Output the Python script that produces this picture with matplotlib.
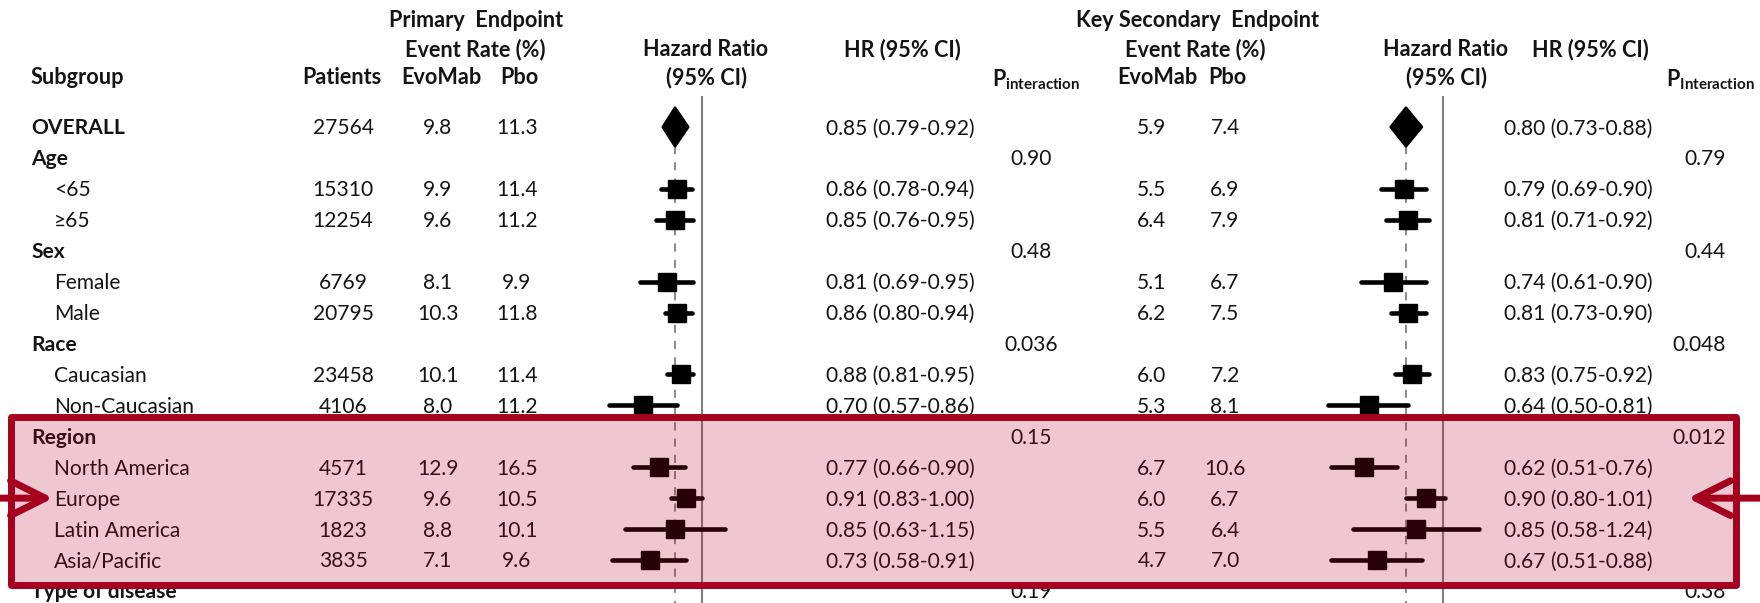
import numpy as np
import matplotlib.pyplot as plt
from matplotlib.patches import Rectangle

plt.rcParams['font.family'] = ['Lato', 'DejaVu Sans']
plt.rcParams['mathtext.fontset'] = 'custom'
plt.rcParams['mathtext.rm'] = 'Lato'
plt.rcParams['mathtext.bf'] = 'Lato:bold'

# Subgroup data
subgroups = ['OVERALL', 'Age', '<65', '≥65', 'Sex', 'Female', 'Male', 'Race',
             'Caucasian', 'Non-Caucasian', 'Region', 'North America', 'Europe',
             'Latin America', 'Asia/Pacific', 'Type of disease']
is_group = [True, True, False, False, True, False, False, True,
            False, False, True, False, False, False, False, True]
nan = np.nan
patients = [27564, nan, 15310, 12254, nan, 6769, 20795, nan,
            23458, 4106, nan, 4571, 17335, 1823, 3835, nan]

# Primary endpoint
evo1 = [9.8, nan, 9.9, 9.6, nan, 8.1, 10.3, nan, 10.1, 8.0, nan, 12.9, 9.6, 8.8, 7.1, nan]
pbo1 = [11.3, nan, 11.4, 11.2, nan, 9.9, 11.8, nan, 11.4, 11.2, nan, 16.5, 10.5, 10.1, 9.6, nan]
hr1 = [0.85, nan, 0.86, 0.85, nan, 0.81, 0.86, nan, 0.88, 0.70, nan, 0.77, 0.91, 0.85, 0.73, nan]
lo1 = [0.79, nan, 0.78, 0.76, nan, 0.69, 0.80, nan, 0.81, 0.57, nan, 0.66, 0.83, 0.63, 0.58, nan]
hi1 = [0.92, nan, 0.94, 0.95, nan, 0.95, 0.94, nan, 0.95, 0.86, nan, 0.90, 1.00, 1.15, 0.91, nan]
p1 = ['', '0.90', '', '', '0.48', '', '', '0.036', '', '', '0.15', '', '', '', '', '0.19']

# Key secondary endpoint
evo2 = [5.9, nan, 5.5, 6.4, nan, 5.1, 6.2, nan, 6.0, 5.3, nan, 6.7, 6.0, 5.5, 4.7, nan]
pbo2 = [7.4, nan, 6.9, 7.9, nan, 6.7, 7.5, nan, 7.2, 8.1, nan, 10.6, 6.7, 6.4, 7.0, nan]
hr2 = [0.80, nan, 0.79, 0.81, nan, 0.74, 0.81, nan, 0.83, 0.64, nan, 0.62, 0.90, 0.85, 0.67, nan]
lo2 = [0.73, nan, 0.69, 0.71, nan, 0.61, 0.73, nan, 0.75, 0.50, nan, 0.51, 0.80, 0.58, 0.51, nan]
hi2 = [0.88, nan, 0.90, 0.92, nan, 0.90, 0.90, nan, 0.92, 0.81, nan, 0.76, 1.01, 1.24, 0.88, nan]
p2 = ['', '0.79', '', '', '0.44', '', '', '0.048', '', '', '0.012', '', '', '', '', '0.38']

highlight = ['Region', 'North America', 'Europe', 'Latin America', 'Asia/Pacific']
arrow_row = 'Europe'

rows = np.arange(len(subgroups))
YLIM = (15.39, -4.106)
TXT = '#141414'
RED = '#A6001F'
FS = 15.1
FSH = 15.6
BASE = 0.24  # baseline offset below row centre

fig = plt.figure(figsize=(17.6, 6.03), dpi=100)
fig.patch.set_facecolor('white')


def forest(left_px, hr, lo, hi):
    fa = fig.add_axes([left_px / 1760, 0, 199.86 / 1760, 1])
    fa.set_xscale('log')
    fa.set_xlim(0.45, 1.5)
    fa.set_ylim(*YLIM)
    fa.axis('off')
    fa.vlines(1.0, -1.0, YLIM[0], color='#808080', lw=1.5, zorder=1)
    fa.vlines(hr[0], 0.62, YLIM[0], color='#808080', lw=1.3,
              linestyles=(0, (4.5, 4.5)), zorder=1)
    # overall diamond
    fa.fill([lo[0], hr[0], hi[0], hr[0]], [rows[0], rows[0] - 0.62, rows[0], rows[0] + 0.62],
            color='black', lw=2, joinstyle='round', zorder=3)
    for i in rows[1:]:
        if np.isnan(hr[i]):
            continue
        fa.plot([lo[i], hi[i]], [i, i], color='black', lw=3.3,
                solid_capstyle='round', zorder=2, clip_on=False)
        fa.plot(hr[i], i, marker='s', ms=13.3, color='black', zorder=3, clip_on=False)
    return fa


forest(569.45, hr1, lo1, hi1)
forest(1310.45, hr2, lo2, hi2)

ax = fig.add_axes([0, 0, 1, 1])
ax.set_xlim(0, 1760)
ax.set_ylim(*YLIM)
ax.axis('off')
ax.patch.set_alpha(0)

# headers
hb = dict(fontsize=FSH, fontweight='bold', color=TXT, va='baseline')
ax.text(476, -3.217, 'Primary  Endpoint', ha='center', **hb)
ax.text(1197, -3.217, 'Key Secondary  Endpoint', ha='center', **hb)
for x in (475, 1195):
    ax.text(x, -2.28, 'Event Rate (%)', ha='center', **hb)
for x in (706, 1446):
    ax.text(x, -2.28, 'Hazard Ratio', ha='center', **hb)
    ax.text(x, -1.374, '(95% CI)', ha='center', **hb)
for x in (902, 1590):
    ax.text(x, -2.28, 'HR (95% CI)', ha='center', **hb)
ax.text(31, -1.374, 'Subgroup', ha='left', **hb)
ax.text(342, -1.374, 'Patients', ha='center', **hb)
for x, lab in ((441, 'EvoMab'), (519, 'Pbo'), (1157, 'EvoMab'), (1227, 'Pbo')):
    ax.text(x, -1.374, lab, ha='center', **hb)
ax.text(1036, -1.31, r'$\mathbf{P}_{\mathbf{interaction}}$', ha='center', **hb)
ax.text(1710, -1.31, r'$\mathbf{P}_{\mathbf{Interaction}}$', ha='center', **hb)

# table body
tb = dict(fontsize=FS, color=TXT, va='baseline')
for i in rows:
    y = i + BASE
    if is_group[i]:
        ax.text(31, y, subgroups[i], ha='left', fontweight='bold', **tb)
    else:
        ax.text(54, y, subgroups[i], ha='left', **tb)
    if not np.isnan(patients[i]):
        ax.text(343, y, f'{int(patients[i])}', ha='center', **tb)
        ax.text(438, y, f'{evo1[i]:.1f}', ha='center', **tb)
        ax.text(517, y, f'{pbo1[i]:.1f}', ha='center', **tb)
        ax.text(900, y, f'{hr1[i]:.2f} ({lo1[i]:.2f}-{hi1[i]:.2f})', ha='center', **tb)
        ax.text(1152, y, f'{evo2[i]:.1f}', ha='center', **tb)
        ax.text(1225, y, f'{pbo2[i]:.1f}', ha='center', **tb)
        ax.text(1578, y, f'{hr2[i]:.2f} ({lo2[i]:.2f}-{hi2[i]:.2f})', ha='center', **tb)
    if p1[i]:
        ax.text(1031, y, p1[i], ha='center', **tb)
    if p2[i]:
        ax.text(1726, y, p2[i], ha='right', **tb)

# highlight box around the region subgroup
r0 = subgroups.index(highlight[0]) - 0.61
r1 = subgroups.index(highlight[-1]) + 0.81
ax.add_patch(Rectangle((10.5, r0), 1725, r1 - r0, facecolor='#B9002E', alpha=0.22,
                       edgecolor='none', zorder=10))
ax.add_patch(Rectangle((10.5, r0), 1725, r1 - r0, facecolor='none', edgecolor=RED,
                       lw=5.0, joinstyle='round', zorder=11))

ya = subgroups.index(arrow_row)
aprops = dict(arrowstyle='->, head_length=0.5, head_width=0.25', lw=5.0, color=RED,
              shrinkA=0, shrinkB=0, capstyle='round', joinstyle='round', mutation_scale=50)
ax.annotate('', xy=(53, ya), xytext=(0, ya), arrowprops=aprops, zorder=12)
ax.annotate('', xy=(1688, ya), xytext=(1760, ya), arrowprops=aprops, zorder=12)

fig.savefig('out.png', dpi=100)
